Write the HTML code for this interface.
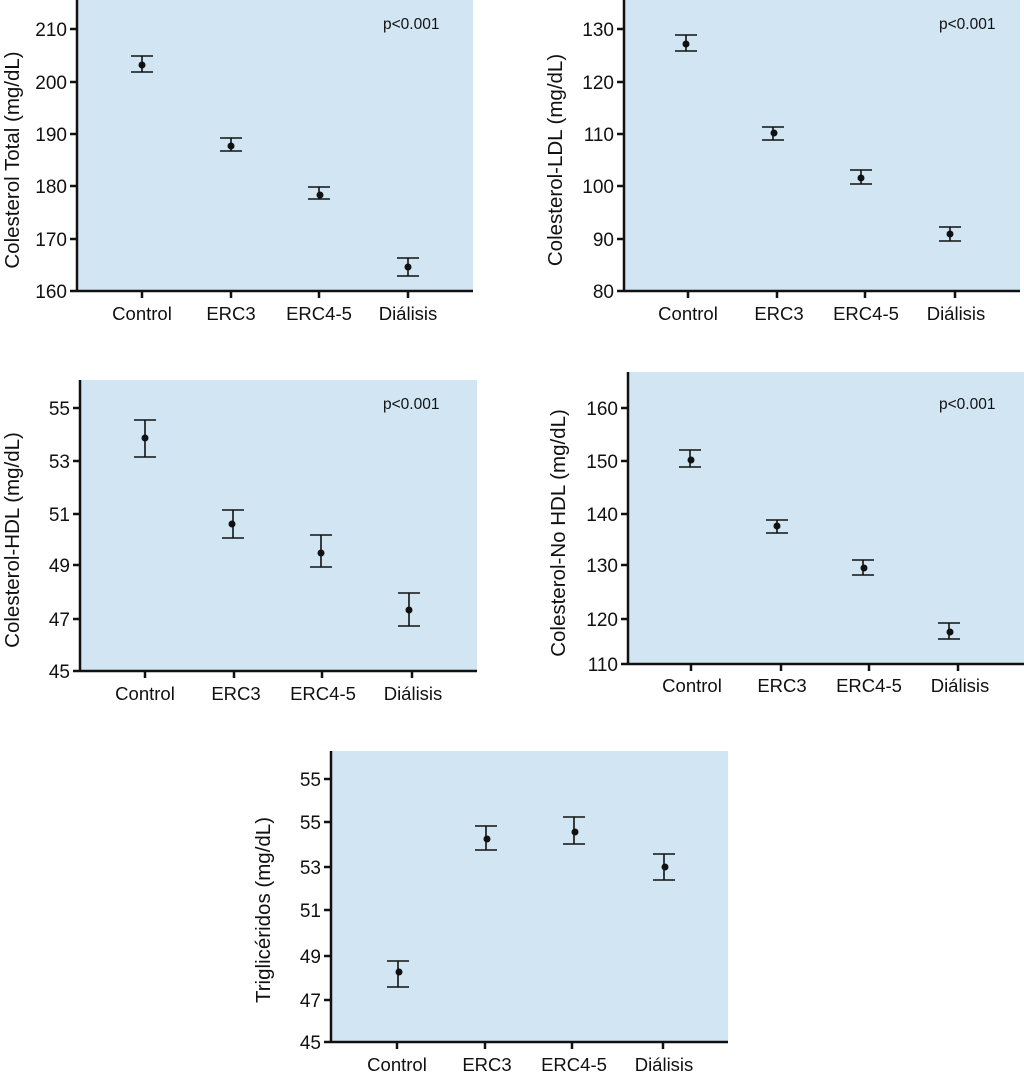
<!DOCTYPE html>
<html><head><meta charset="utf-8"><style>
body{margin:0;background:#fff;}
svg{display:block;font-family:"Liberation Sans",Arial,sans-serif;}
.bg{fill:#d2e5f3;}
.ax{stroke:#111;stroke-width:2.5;fill:none;}
.eb{stroke:#111;stroke-width:1.6;fill:none;}
.t{font-size:20.5px;fill:#111;}
.yl{font-size:19px;fill:#111;text-anchor:end;}
.xl{font-size:18.5px;fill:#111;text-anchor:middle;}
.p{font-size:15.5px;fill:#111;}
</style></head><body>
<svg width="1024" height="1076" viewBox="0 0 1024 1076">
<!-- Chart 1 -->
<rect class="bg" x="77" y="0" width="396" height="291"/>
<path class="ax" d="M77 0V291H473M70 29H77M70 82H77M70 134H77M70 186H77M70 239H77M70 291H77M142 291V298M231 291V298M319 291V298M408 291V298"/>
<g class="yl"><text x="67" y="36">210</text><text x="67" y="89">200</text><text x="67" y="141">190</text><text x="67" y="193">180</text><text x="67" y="246">170</text><text x="67" y="298">160</text></g>
<g class="xl"><text x="142" y="320">Control</text><text x="231" y="320">ERC3</text><text x="319" y="320">ERC4-5</text><text x="408" y="320">Diálisis</text></g>
<text class="p" x="383" y="29">p&lt;0.001</text>
<text class="t" transform="translate(19 160) rotate(-90)" text-anchor="middle">Colesterol Total (mg/dL)</text>
<path class="eb" d="M131 56H153M131 72H153M142 56V72M220 138H242M220 151H242M231 138V151M308 187H330M308 199H330M319 187V199M397 258H419M397 276H419M408 258V276"/>
<g fill="#111"><circle cx="142" cy="65" r="3.5"/><circle cx="231" cy="146" r="3.5"/><circle cx="320" cy="195" r="3.5"/><circle cx="408" cy="267" r="3.5"/></g>

<!-- Chart 2 -->
<rect class="bg" x="624" y="0" width="396" height="291"/>
<path class="ax" d="M624 0V291H1020M617 29H624M617 82H624M617 134H624M617 186H624M617 239H624M617 291H624M688 291V298M777 291V298M865 291V298M955 291V298"/>
<g class="yl"><text x="614" y="36">130</text><text x="614" y="89">120</text><text x="614" y="141">110</text><text x="614" y="193">100</text><text x="614" y="246">90</text><text x="614" y="298">80</text></g>
<g class="xl"><text x="688" y="320">Control</text><text x="779" y="320">ERC3</text><text x="866" y="320">ERC4-5</text><text x="956" y="320">Diálisis</text></g>
<text class="p" x="939" y="29">p&lt;0.001</text>
<text class="t" transform="translate(562 160) rotate(-90)" text-anchor="middle">Colesterol-LDL (mg/dL)</text>
<path class="eb" d="M675 35H697M675 51H697M686 35V51M762 127H784M762 140H784M773 127V140M850 170H872M850 184H872M861 170V184M939 227H961M939 241H961M950 227V241"/>
<g fill="#111"><circle cx="686" cy="44" r="3.5"/><circle cx="774" cy="133" r="3.5"/><circle cx="861" cy="178" r="3.5"/><circle cx="950" cy="234" r="3.5"/></g>

<!-- Chart 3 -->
<rect class="bg" x="80" y="380" width="397" height="291"/>
<path class="ax" d="M80 380V671H477M73 408H80M73 461H80M73 514H80M73 565H80M73 619H80M73 671H80M145 671V678M234 671V678M322 671V678M412 671V678"/>
<g class="yl"><text x="70" y="415">55</text><text x="70" y="468">53</text><text x="70" y="521">51</text><text x="70" y="572">49</text><text x="70" y="626">47</text><text x="70" y="678">45</text></g>
<g class="xl"><text x="145" y="700">Control</text><text x="236" y="700">ERC3</text><text x="323" y="700">ERC4-5</text><text x="413" y="700">Diálisis</text></g>
<text class="p" x="383" y="409">p&lt;0.001</text>
<text class="t" transform="translate(19 540) rotate(-90)" text-anchor="middle">Colesterol-HDL (mg/dL)</text>
<path class="eb" d="M134 420H156M134 457H156M145 420V457M222 510H244M222 538H244M233 510V538M310 535H332M310 567H332M321 535V567M398 593H420M398 626H420M409 593V626"/>
<g fill="#111"><circle cx="145" cy="438" r="3.5"/><circle cx="232" cy="524" r="3.5"/><circle cx="321" cy="553" r="3.5"/><circle cx="409" cy="610" r="3.5"/></g>

<!-- Chart 4 -->
<rect class="bg" x="628" y="372" width="396" height="292"/>
<path class="ax" d="M628 372V664H1024M621 408H628M621 461H628M621 514H628M621 565H628M621 619H628M621 664H628M691 664V671M781 664V671M869 664V671M958 664V671"/>
<g class="yl"><text x="618" y="415">160</text><text x="618" y="468">150</text><text x="618" y="521">140</text><text x="618" y="572">130</text><text x="618" y="626">120</text><text x="618" y="671">110</text></g>
<g class="xl"><text x="692" y="692">Control</text><text x="782" y="692">ERC3</text><text x="869" y="692">ERC4-5</text><text x="960" y="692">Diálisis</text></g>
<text class="p" x="939" y="409">p&lt;0.001</text>
<text class="t" transform="translate(565 533) rotate(-90)" text-anchor="middle">Colesterol-No HDL (mg/dL)</text>
<path class="eb" d="M679 450H701M679 467H701M690 450V467M766 520H788M766 533H788M777 520V533M852 560H874M852 575H874M863 560V575M938 623H960M938 639H960M949 623V639"/>
<g fill="#111"><circle cx="691" cy="460" r="3.5"/><circle cx="777" cy="526" r="3.5"/><circle cx="864" cy="568" r="3.5"/><circle cx="950" cy="632" r="3.5"/></g>

<!-- Chart 5 -->
<rect class="bg" x="331" y="751" width="397" height="291"/>
<path class="ax" d="M331 751V1042H728M324 779H331M324 822H331M324 867H331M324 910H331M324 956H331M324 1000H331M324 1042H331M397 1042V1049M485 1042V1049M572 1042V1049M663 1042V1049"/>
<g class="yl"><text x="321" y="786">55</text><text x="321" y="829">55</text><text x="321" y="874">53</text><text x="321" y="917">51</text><text x="321" y="963">49</text><text x="321" y="1007">47</text><text x="321" y="1049">45</text></g>
<g class="xl"><text x="397" y="1071">Control</text><text x="487" y="1071">ERC3</text><text x="574" y="1071">ERC4-5</text><text x="664" y="1071">Diálisis</text></g>
<text class="t" transform="translate(270 910) rotate(-90)" text-anchor="middle">Triglicéridos (mg/dL)</text>
<path class="eb" d="M387 961H409M387 987H409M398 961V987M475 826H497M475 850H497M486 826V850M563 817H585M563 844H585M574 817V844M653 854H675M653 880H675M664 854V880"/>
<g fill="#111"><circle cx="399" cy="972" r="3.5"/><circle cx="487" cy="839" r="3.5"/><circle cx="575" cy="832" r="3.5"/><circle cx="665" cy="867" r="3.5"/></g>
</svg>
</body></html>
